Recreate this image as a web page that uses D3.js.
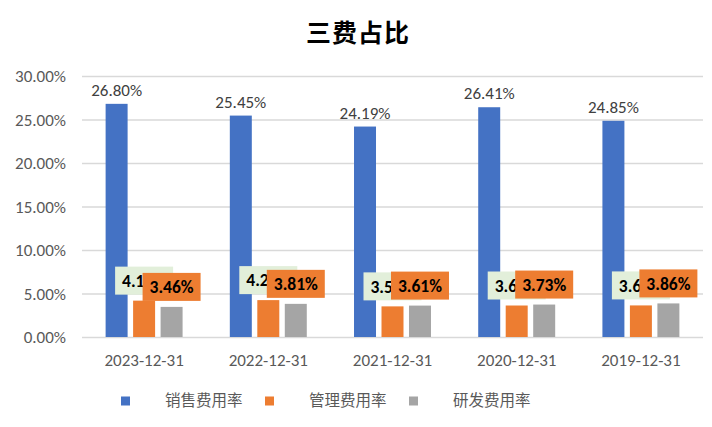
<!DOCTYPE html>
<html><head><meta charset="utf-8">
<script src="https://cdn.jsdelivr.net/npm/d3@7"></script>
<style>body{margin:0;background:#fff}svg{display:block}</style>
</head><body>
<svg id="c" width="712" height="427"></svg>
<script>
const categories = ["2023-12-31","2022-12-31","2021-12-31","2020-12-31","2019-12-31"];
const seriesNames = ["销售费用率","管理费用率","研发费用率"];
const sales = [26.80, 25.45, 24.19, 26.41, 24.85];
const admin = [4.18, 4.24, 3.52, 3.62, 3.63];
const rnd = [3.46, 3.81, 3.61, 3.73, 3.86];
const yTicks = [0, 5, 10, 15, 20, 25, 30];
const colors = ["#4472C4","#ED7D31","#A5A5A5"];
const title = "三费占比";

const svg = d3.select("#c");
const fontLat = "Calibri, Carlito, Lato, 'Noto Sans', sans-serif";
const fontCJK = "'Noto Sans CJK SC', sans-serif";

const x0 = d3.scaleBand().domain(categories).range([82, 703]).paddingInner(0.336).paddingOuter(0.168);
const x1 = d3.scaleBand().domain(seriesNames).range([0, x0.bandwidth()]).paddingInner(0.2).paddingOuter(0.1);
const y = d3.scaleLinear().domain([0, 30]).range([337, 76]);

// title
svg.append("text").attr("x", 358).attr("y", 42).attr("text-anchor","middle")
  .attr("font-family", fontCJK).attr("font-weight","bold").attr("font-size", 25)
  .attr("letter-spacing", 1).attr("fill","#000").text(title);

// gridlines + y axis
const yAxis = d3.axisLeft(y).tickValues(yTicks).tickSize(-(703-82)).tickFormat(d => d.toFixed(2) + "%");
const gy = svg.append("g").attr("transform","translate(82,0)").call(yAxis);
gy.select(".domain").remove();
gy.selectAll(".tick line").attr("stroke","#d9d9d9").attr("stroke-width",1.3);
gy.selectAll(".tick text").attr("x",-16).attr("dy","0.35em").attr("fill","#595959")
  .attr("font-family", fontLat).attr("font-size",17);

// x axis labels
const xAxis = d3.axisBottom(x0).tickSize(0).tickPadding(17);
const gx = svg.append("g").attr("transform","translate(0,337)").call(xAxis);
gx.select(".domain").remove();
gx.selectAll(".tick text").attr("fill","#595959").attr("font-family", fontLat).attr("font-size",17);

const data = categories.map((c,i) => ({cat:c, vals:[sales[i], admin[i], rnd[i]]}));

// bars
const groups = svg.append("g").selectAll("g").data(data).join("g")
  .attr("transform", d => `translate(${x0(d.cat)},0)`);
groups.selectAll("rect").data(d => d.vals.map((v,k) => ({v, k}))).join("rect")
  .attr("x", d => x1(seriesNames[d.k])).attr("width", x1.bandwidth())
  .attr("y", d => y(d.v)).attr("height", d => y(0) - y(d.v))
  .attr("fill", d => colors[d.k]);

// sales labels
groups.append("text")
  .attr("x", x1(seriesNames[0]) + x1.bandwidth()/2)
  .attr("y", d => y(d.vals[0]) - 8)
  .attr("text-anchor","middle").attr("fill","#404040")
  .attr("font-family", fontLat).attr("font-size",17)
  .text(d => d.vals[0].toFixed(2) + "%");

// boxed labels for admin (green) and rnd (orange)
function boxLabel(k, fill) {
  const bw = 58, bh = 28;
  const g = groups.append("g").attr("transform", d => {
    const cx = x1(seriesNames[k]) + x1.bandwidth()/2;
    const top = y(d.vals[k]) - 6 - bh;
    return `translate(${cx - bw/2},${top})`;
  });
  g.append("rect").attr("width", bw).attr("height", bh).attr("fill", fill);
  g.append("text").attr("x", bw/2).attr("y", bh/2).attr("dy","0.36em")
    .attr("text-anchor","middle").attr("font-family", fontLat).attr("font-weight","bold")
    .attr("font-size",17.5).attr("fill","#000").text(d => d.vals[k].toFixed(2) + "%");
}
boxLabel(1, "#E2EFDA");
boxLabel(2, "#ED7D31");

// legend
const legendX = [121, 265, 409];
const lg = svg.append("g").selectAll("g").data(seriesNames).join("g")
  .attr("transform", (d,i) => `translate(${legendX[i]},401)`);
lg.append("rect").attr("x",0).attr("y",-4.5).attr("width",9).attr("height",9).attr("fill",(d,i)=>colors[i]);
lg.append("text").attr("x",44).attr("dy","0.35em").attr("fill","#595959")
  .attr("font-family", fontCJK).attr("font-size",15.5).text(d => d);
</script>
</body></html>
